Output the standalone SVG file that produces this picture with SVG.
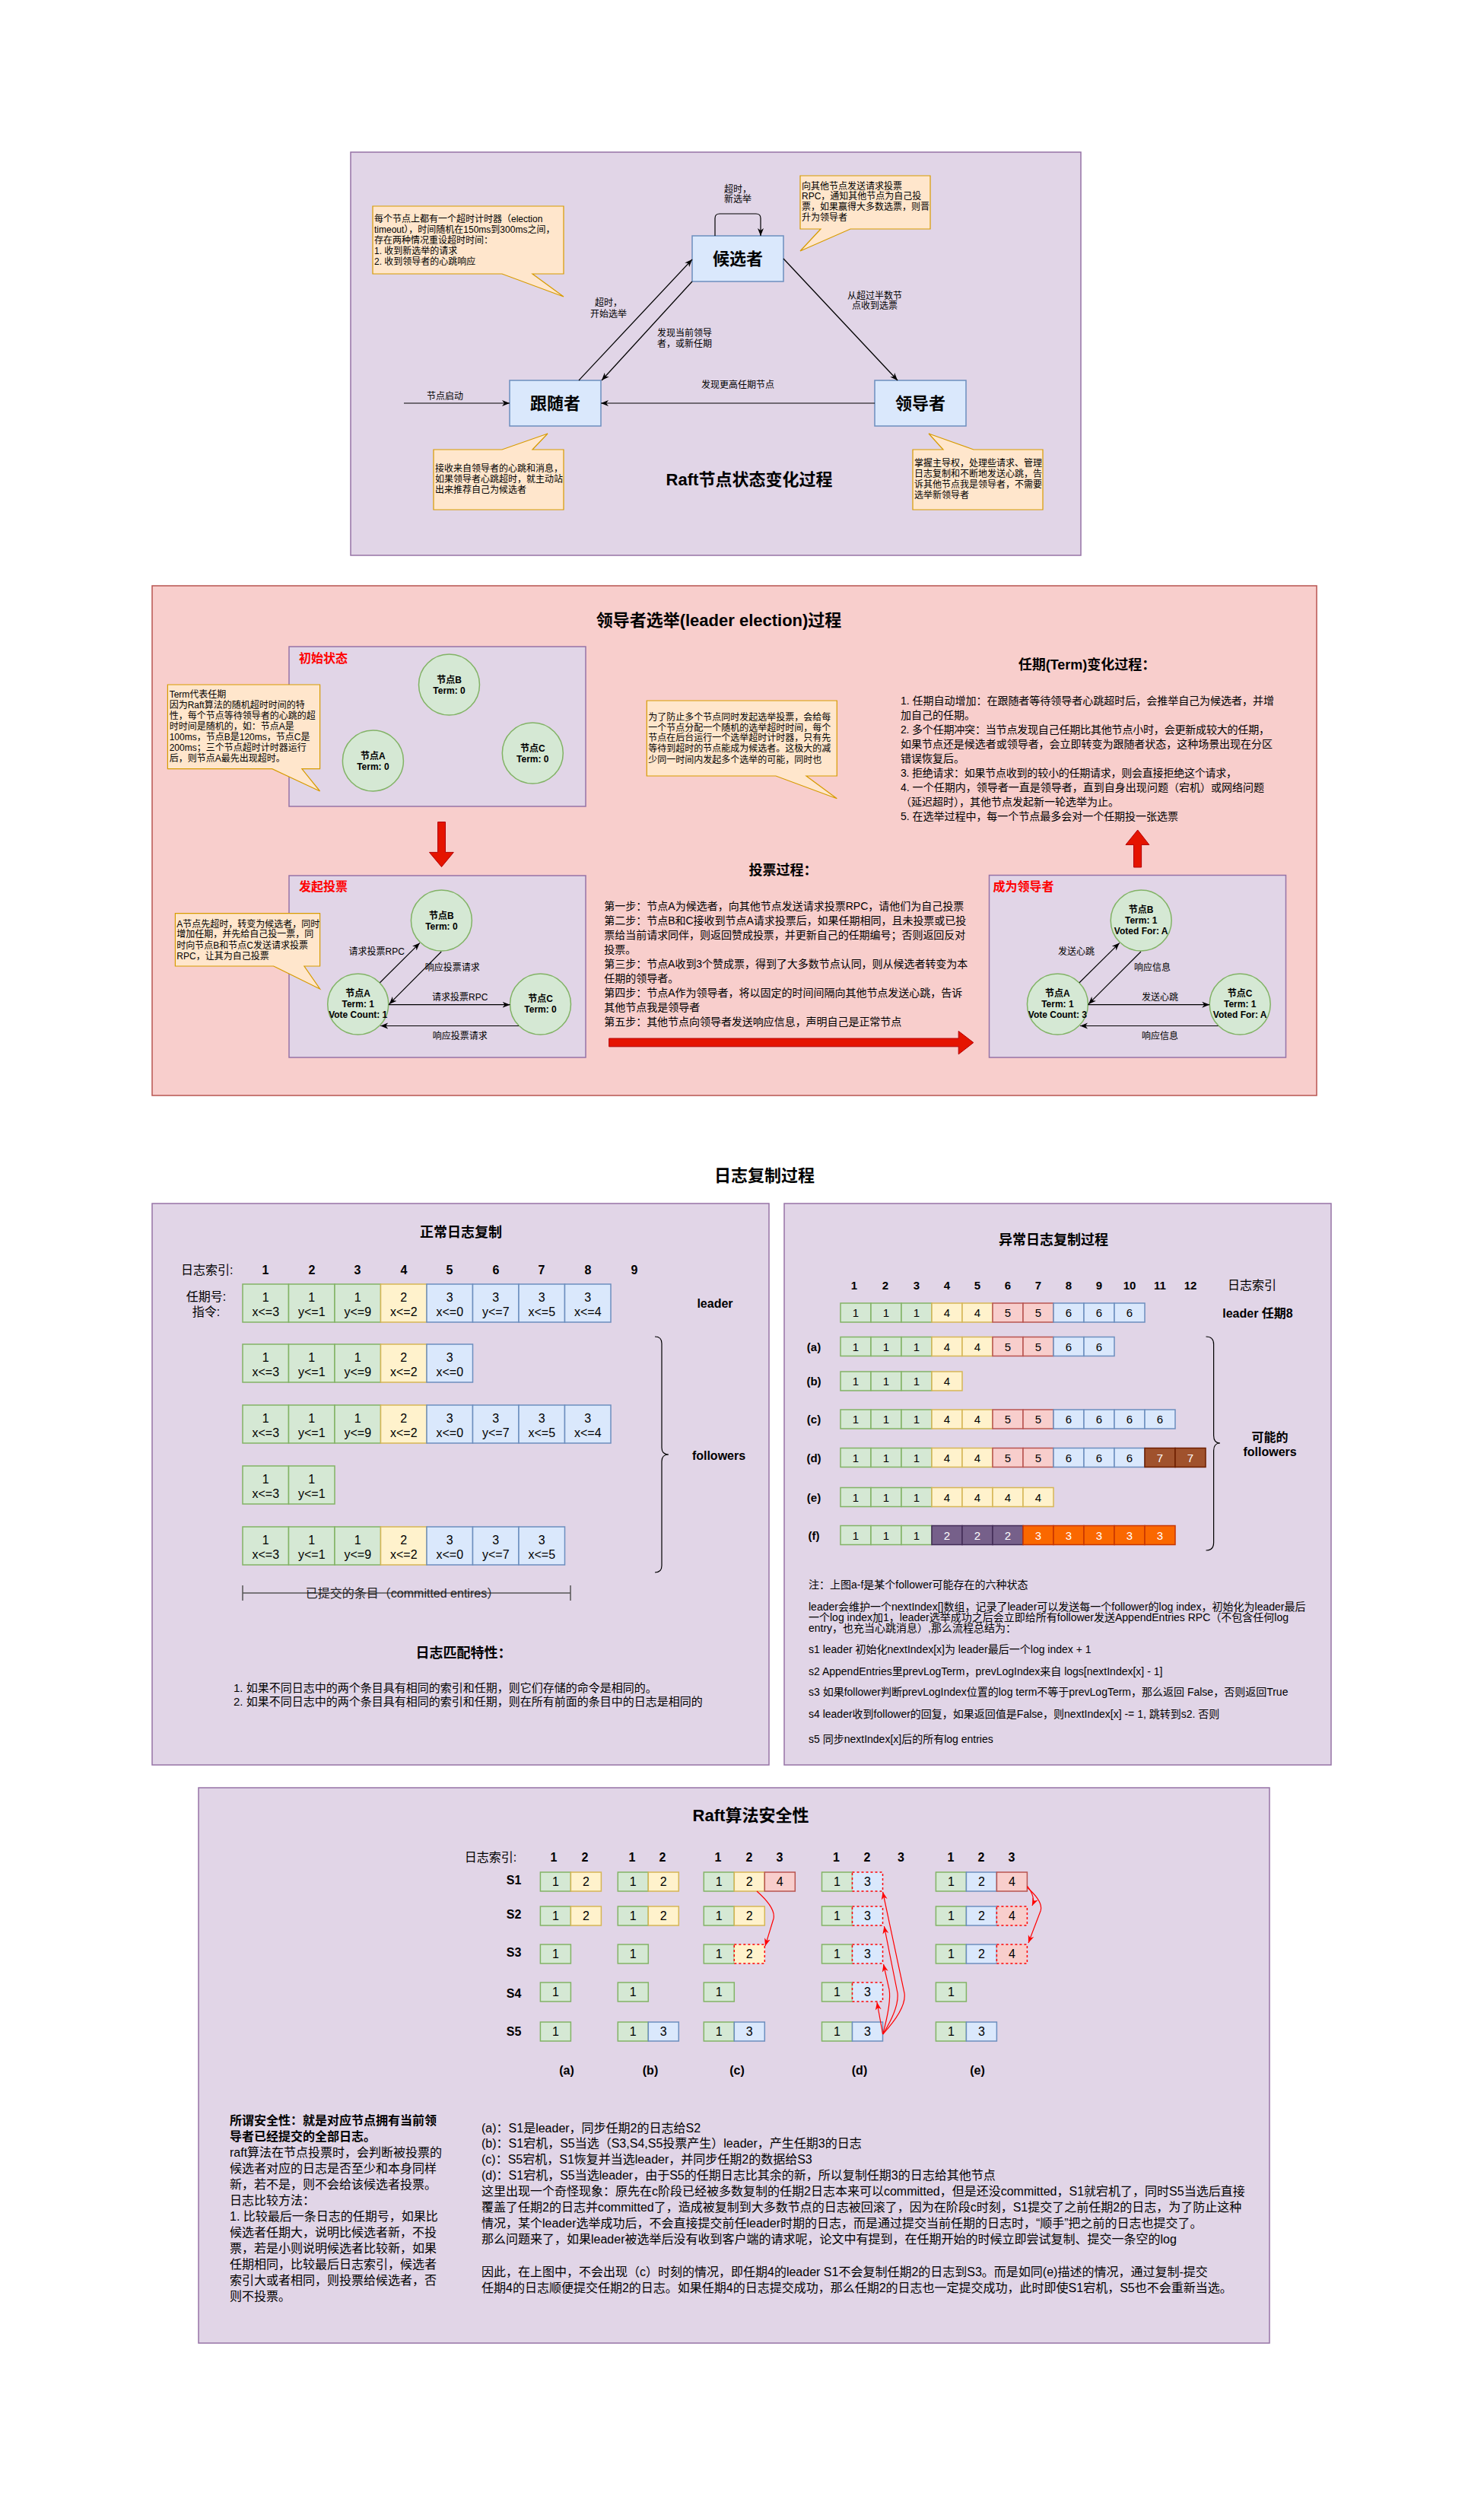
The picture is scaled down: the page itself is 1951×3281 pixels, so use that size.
<svg xmlns="http://www.w3.org/2000/svg" width="1951" height="3281" viewBox="0 0 1951 3281">
<style>
text{font-family:"Liberation Sans","Noto Sans CJK SC",sans-serif;fill:#000;dominant-baseline:central}
.m{text-anchor:middle}
.b{font-weight:bold}
.s11{font-size:11px}.s12{font-size:12px}.s14{font-size:14px}.s15{font-size:15px}.s16{font-size:16px}.s18{font-size:18px}.s22{font-size:22px}
.red{fill:#ff0000}
.w{fill:#fff}
.pp{fill:#e1d5e7;stroke:#9673a6;stroke-width:1.5}
.pr{fill:#f8cecc;stroke:#b85450;stroke-width:1.5}
.co{fill:#ffe6cc;stroke:#d79b00;stroke-width:1.2}
.bl{fill:#dae8fc;stroke:#6c8ebf;stroke-width:1.5}
.gr{fill:#d5e8d4;stroke:#82b366;stroke-width:1.5}
.ye{fill:#fff2cc;stroke:#d6b656;stroke-width:1.5}
.rd{fill:#f8cecc;stroke:#b85450;stroke-width:1.5}
.bn{fill:#a0522d;stroke:#6d1f00;stroke-width:1.5}
.pu{fill:#76608a;stroke:#432d57;stroke-width:1.5}
.or{fill:#fa6800;stroke:#c73500;stroke-width:1.5}
.dsh{stroke:#ff0000;stroke-dasharray:3 3}
.nd{fill:#d5e8d4;stroke:#82b366;stroke-width:1.5}
.e{fill:none;stroke:#000;stroke-width:1.2;marker-end:url(#a)}
.er{fill:none;stroke:#ff0000;stroke-width:1.2;marker-end:url(#ar)}
.big{fill:#e51400;stroke:#b20000;stroke-width:1}
.ln{fill:none;stroke:#000;stroke-width:1.2}
</style>
<defs>
<marker id="a" markerUnits="userSpaceOnUse" markerWidth="10" markerHeight="10" viewBox="0 0 10 10" refX="10" refY="5" orient="auto"><path d="M0,1 L10,5 L0,9 L3,5 Z" fill="#000"/></marker>
<marker id="ar" markerUnits="userSpaceOnUse" markerWidth="10" markerHeight="10" viewBox="0 0 10 10" refX="10" refY="5" orient="auto"><path d="M0,1 L10,5 L0,9 L3,5 Z" fill="#ff0000"/></marker>
</defs>
<rect x="0" y="0" width="1951" height="3281" fill="#ffffff"/>

<!-- ========== Section 1: state diagram ========== -->
<g id="state-panel">
<rect class="pp" x="461" y="200" width="960" height="530"/>
<text class="s22 b m" x="985" y="630">Raft节点状态变化过程</text>
</g>
<g id="note-timeout">
<path class="co" d="M490,271 H741 V360 H700 L741,390 L660,360 H490 Z"/>
<text class="s12" x="492" y="288">每个节点上都有一个超时计时器（election</text>
<text class="s12" x="492" y="302">timeout），时间随机在150ms到300ms之间，</text>
<text class="s12" x="492" y="316">存在两种情况重设超时时间：</text>
<text class="s12" x="492" y="330">1. 收到新选举的请求</text>
<text class="s12" x="492" y="344">2. 收到领导者的心跳响应</text>
</g>
<g id="note-candidate">
<path class="co" d="M1052,231 H1223 V301 H1118 L1052,330 L1079,301 H1052 Z"/>
<text class="s12" x="1054" y="245">向其他节点发送请求投票</text>
<text class="s12" x="1054" y="258">RPC，通知其他节点为自己投</text>
<text class="s12" x="1054" y="272">票，如果赢得大多数选票，则晋</text>
<text class="s12" x="1054" y="286">升为领导者</text>
</g>
<g id="note-follower">
<path class="co" d="M570,591 H660 L720,570 L700,591 H741 V670 H570 Z"/>
<text class="s12" x="572" y="616">接收来自领导者的心跳和消息，</text>
<text class="s12" x="572" y="630">如果领导者心跳超时，就主动站</text>
<text class="s12" x="572" y="644">出来推荐自己为候选者</text>
</g>
<g id="note-leader">
<path class="co" d="M1200,591 H1240 L1221,570 L1280,591 H1371 V670 H1200 Z"/>
<text class="s12" x="1202" y="609">掌握主导权，处理些请求、管理</text>
<text class="s12" x="1202" y="623">日志复制和不断地发送心跳，告</text>
<text class="s12" x="1202" y="637">诉其他节点我是领导者，不需要</text>
<text class="s12" x="1202" y="651">选举新领导者</text>
</g>
<g id="candidate">
<rect class="bl" x="910" y="310" width="120" height="60"/>
<text class="s22 b m" x="970" y="340">候选者</text>
</g>
<g id="follower">
<rect class="bl" x="670" y="500" width="120" height="60"/>
<text class="s22 b m" x="730" y="530">跟随者</text>
</g>
<g id="leader">
<rect class="bl" x="1150" y="500" width="120" height="60"/>
<text class="s22 b m" x="1210" y="530">领导者</text>
</g>

<!-- ========== Section 2: leader election ========== -->
<g id="election-panel">
<rect class="pr" x="200" y="770" width="1531" height="670"/>
<text class="s22 b m" x="945" y="815">领导者选举(leader election)过程</text>
</g>
<g id="init-state">
<rect class="pp" x="380" y="850" width="390" height="210"/>
<text class="s16 b red" x="393" y="865">初始状态</text>
</g>
<g id="init-nodeB"><ellipse class="nd" cx="590.5" cy="900" rx="40" ry="40"/><text class="s12 b m" x="590.5" y="893.5">节点B</text><text class="s12 b m" x="590.5" y="907.5">Term: 0</text></g>
<g id="init-nodeA"><ellipse class="nd" cx="490.4" cy="1000" rx="40" ry="40"/><text class="s12 b m" x="490.4" y="993.5">节点A</text><text class="s12 b m" x="490.4" y="1007.5">Term: 0</text></g>
<g id="init-nodeC"><ellipse class="nd" cx="700.3" cy="990" rx="40" ry="40"/><text class="s12 b m" x="700.3" y="983.5">节点C</text><text class="s12 b m" x="700.3" y="997.5">Term: 0</text></g>
<g id="note-term">
<path class="co" d="M220.4,900 H420.6 V1010.7 H396.9 L420.6,1040 L357.8,1010.7 H220.4 Z"/>
<text class="s12" x="222.7" y="913">Term代表任期</text>
<text class="s12" x="222.7" y="927">因为Raft算法的随机超时时间的特</text>
<text class="s12" x="222.7" y="941">性，每个节点等待领导者的心跳的超</text>
<text class="s12" x="222.7" y="955">时时间是随机的，如：节点A是</text>
<text class="s12" x="222.7" y="969">100ms，节点B是120ms，节点C是</text>
<text class="s12" x="222.7" y="983">200ms；三个节点超时计时器运行</text>
<text class="s12" x="222.7" y="997">后，则节点A最先出现超时。</text>
</g>
<g id="arrow-down"><path class="big" d="M575.6,1080.5 H585.5 V1120.4 H596.3 L580.5,1139.5 L564.5,1120.4 H575.6 Z"/></g>
<g id="vote-state">
<rect class="pp" x="380" y="1151" width="390" height="239"/>
<text class="s16 b red" x="393" y="1165">发起投票</text>
</g>
<g id="vote-nodeB"><ellipse class="nd" cx="580.4" cy="1210" rx="40" ry="40"/><text class="s12 b m" x="580.4" y="1203.5">节点B</text><text class="s12 b m" x="580.4" y="1217.5">Term: 0</text></g>
<g id="vote-nodeA"><ellipse class="nd" cx="470.7" cy="1320" rx="40" ry="40"/><text class="s12 b m" x="470.7" y="1306.4">节点A</text><text class="s12 b m" x="470.7" y="1320.3">Term: 1</text><text class="s12 b m" x="470.7" y="1334.2">Vote Count: 1</text></g>
<g id="vote-nodeC"><ellipse class="nd" cx="710.5" cy="1320" rx="40" ry="40"/><text class="s12 b m" x="710.5" y="1313.4">节点C</text><text class="s12 b m" x="710.5" y="1327.3">Term: 0</text></g>
<g id="note-vote">
<path class="co" d="M230.4,1200.6 H420.6 V1270 H399.9 L420.6,1300 L359.7,1270 H230.4 Z"/>
<text class="s12" x="232.3" y="1214.5">A节点先超时，转变为候选者，同时</text>
<text class="s12" x="232.3" y="1228.4">增加任期，并先给自己投一票，同</text>
<text class="s12" x="232.3" y="1242.5">时向节点B和节点C发送请求投票</text>
<text class="s12" x="232.3" y="1256.5">RPC，让其为自己投票</text>
</g>
<g id="note-random">
<path class="co" d="M850.3,921 H1100.3 V1020 H1060 L1100.3,1049.7 L1020,1020 H850.3 Z"/>
<text class="s12" x="852.3" y="942.6">为了防止多个节点同时发起选举投票，会给每</text>
<text class="s12" x="852.3" y="956.5">一个节点分配一个随机的选举超时时间，每个</text>
<text class="s12" x="852.3" y="970.3">节点在后台运行一个选举超时计时器，只有先</text>
<text class="s12" x="852.3" y="984.2">等待到超时的节点能成为候选者。这极大的减</text>
<text class="s12" x="852.3" y="998.5">少同一时间内发起多个选举的可能，同时也</text>
</g>
<g id="vote-process">
<text class="s18 b m" x="1029.5" y="1144">投票过程：</text>
<text class="s14" x="794.3" y="1190.6" textLength="473" lengthAdjust="spacing">第一步：节点A为候选者，向其他节点发送请求投票RPC，请他们为自己投票</text>
<text class="s14" x="794.3" y="1210" textLength="476" lengthAdjust="spacing">第二步：节点B和C接收到节点A请求投票后，如果任期相同，且未投票或已投</text>
<text class="s14" x="794.3" y="1229" textLength="475" lengthAdjust="spacing">票给当前请求同伴，则返回赞成投票，并更新自己的任期编号；否则返回反对</text>
<text class="s14" x="794.3" y="1248">投票。</text>
<text class="s14" x="794.3" y="1267" textLength="478" lengthAdjust="spacing">第三步：节点A收到3个赞成票，得到了大多数节点认同，则从候选者转变为本</text>
<text class="s14" x="794.3" y="1286">任期的领导者。</text>
<text class="s14" x="794.3" y="1305" textLength="471" lengthAdjust="spacing">第四步：节点A作为领导者，将以固定的时间间隔向其他节点发送心跳，告诉</text>
<text class="s14" x="794.3" y="1324">其他节点我是领导者</text>
<text class="s14" x="794.3" y="1343" textLength="391" lengthAdjust="spacing">第五步：其他节点向领导者发送响应信息，声明自己是正常节点</text>
</g>
<g id="arrow-right"><path class="big" d="M800.7,1365 H1260.2 V1355.4 L1279.8,1370.5 L1260.2,1385.8 V1375.8 H800.7 Z"/></g>
<g id="term-process">
<text class="s18 b m" x="1429" y="874">任期(Term)变化过程：</text>
<text class="s14" x="1184" y="921" textLength="491" lengthAdjust="spacing">1. 任期自动增加：在跟随者等待领导者心跳超时后，会推举自己为候选者，并增</text>
<text class="s14" x="1184" y="940">加自己的任期。</text>
<text class="s14" x="1184" y="959" textLength="485" lengthAdjust="spacing">2. 多个任期冲突：当节点发现自己任期比其他节点小时，会更新成较大的任期，</text>
<text class="s14" x="1184" y="978" textLength="489" lengthAdjust="spacing">如果节点还是候选者或领导者，会立即转变为跟随者状态，这种场景出现在分区</text>
<text class="s14" x="1184" y="997">错误恢复后。</text>
<text class="s14" x="1184" y="1016" textLength="442" lengthAdjust="spacing">3. 拒绝请求：如果节点收到的较小的任期请求，则会直接拒绝这个请求，</text>
<text class="s14" x="1184" y="1035" textLength="478" lengthAdjust="spacing">4. 一个任期内，领导者一直是领导者，直到自身出现问题（宕机）或网络问题</text>
<text class="s14" x="1184" y="1054">（延迟超时），其他节点发起新一轮选举为止。</text>
<text class="s14" x="1184" y="1073" textLength="365" lengthAdjust="spacing">5. 在选举过程中，每一个节点最多会对一个任期投一张选票</text>
</g>
<g id="arrow-up"><path class="big" d="M1490.5,1140 V1110.4 H1480 L1495.7,1091 L1510.8,1110.4 H1500.6 V1140 Z"/></g>
<g id="leader-state">
<rect class="pp" x="1300.5" y="1150.5" width="390" height="239.5"/>
<text class="s16 b red" x="1305.4" y="1165">成为领导者</text>
</g>
<g id="lead-nodeB"><ellipse class="nd" cx="1500.2" cy="1210" rx="40" ry="40"/><text class="s12 b m" x="1500.2" y="1196.3">节点B</text><text class="s12 b m" x="1500.2" y="1210.2">Term: 1</text><text class="s12 b m" x="1500.2" y="1224">Voted For: A</text></g>
<g id="lead-nodeA"><ellipse class="nd" cx="1390.4" cy="1320" rx="40" ry="40"/><text class="s12 b m" x="1390.4" y="1306.4">节点A</text><text class="s12 b m" x="1390.4" y="1320.3">Term: 1</text><text class="s12 b m" x="1390.4" y="1334.2">Vote Count: 3</text></g>
<g id="lead-nodeC"><ellipse class="nd" cx="1630.2" cy="1320" rx="40" ry="40"/><text class="s12 b m" x="1630.2" y="1306.4">节点C</text><text class="s12 b m" x="1630.2" y="1320.3">Term: 1</text><text class="s12 b m" x="1630.2" y="1334.2">Voted For: A</text></g>

<!-- ========== Section 3: log replication ========== -->
<text class="s22 b m" x="1005" y="1545">日志复制过程</text>
<g id="normal-log">
<rect class="pp" x="200" y="1582" width="811" height="738"/>
<text class="s18 b m" x="606" y="1620">正常日志复制</text>
<text class="s16" x="238" y="1669">日志索引:</text>
<text class="s16 b m" x="349" y="1669">1</text><text class="s16 b m" x="410" y="1669">2</text><text class="s16 b m" x="470" y="1669">3</text><text class="s16 b m" x="531" y="1669">4</text><text class="s16 b m" x="591" y="1669">5</text><text class="s16 b m" x="652" y="1669">6</text><text class="s16 b m" x="712" y="1669">7</text><text class="s16 b m" x="773" y="1669">8</text><text class="s16 b m" x="834" y="1669">9</text>
<text class="s16 m" x="271" y="1704">任期号:</text>
<text class="s16 m" x="271" y="1724">指令:</text>
<text class="s16 b m" x="940" y="1713">leader</text>
<text class="s16 b m" x="945" y="1913">followers</text>
<path class="ln" d="M861,1757 Q870,1757 870,1766 V1903 Q870,1912 879,1912 Q870,1912 870,1921 V2058 Q870,2067 861,2067"/>
</g>
<g id="log-leader">
<rect class="gr" x="319" y="1688" width="60.5" height="50"/><text class="s16 m" x="349.25" y="1705">1</text><text class="s16 m" x="349.25" y="1724">x&lt;=3</text>
<rect class="gr" x="379.5" y="1688" width="60.5" height="50"/><text class="s16 m" x="409.75" y="1705">1</text><text class="s16 m" x="409.75" y="1724">y&lt;=1</text>
<rect class="gr" x="440" y="1688" width="60.5" height="50"/><text class="s16 m" x="470.25" y="1705">1</text><text class="s16 m" x="470.25" y="1724">y&lt;=9</text>
<rect class="ye" x="500.5" y="1688" width="60.5" height="50"/><text class="s16 m" x="530.75" y="1705">2</text><text class="s16 m" x="530.75" y="1724">x&lt;=2</text>
<rect class="bl" x="561" y="1688" width="60.5" height="50"/><text class="s16 m" x="591.25" y="1705">3</text><text class="s16 m" x="591.25" y="1724">x&lt;=0</text>
<rect class="bl" x="621.5" y="1688" width="60.5" height="50"/><text class="s16 m" x="651.75" y="1705">3</text><text class="s16 m" x="651.75" y="1724">y&lt;=7</text>
<rect class="bl" x="682" y="1688" width="60.5" height="50"/><text class="s16 m" x="712.25" y="1705">3</text><text class="s16 m" x="712.25" y="1724">x&lt;=5</text>
<rect class="bl" x="742.5" y="1688" width="60.5" height="50"/><text class="s16 m" x="772.75" y="1705">3</text><text class="s16 m" x="772.75" y="1724">x&lt;=4</text>
</g>
<g id="log-f1">
<rect class="gr" x="319" y="1767" width="60.5" height="50"/><text class="s16 m" x="349.25" y="1784">1</text><text class="s16 m" x="349.25" y="1803">x&lt;=3</text>
<rect class="gr" x="379.5" y="1767" width="60.5" height="50"/><text class="s16 m" x="409.75" y="1784">1</text><text class="s16 m" x="409.75" y="1803">y&lt;=1</text>
<rect class="gr" x="440" y="1767" width="60.5" height="50"/><text class="s16 m" x="470.25" y="1784">1</text><text class="s16 m" x="470.25" y="1803">y&lt;=9</text>
<rect class="ye" x="500.5" y="1767" width="60.5" height="50"/><text class="s16 m" x="530.75" y="1784">2</text><text class="s16 m" x="530.75" y="1803">x&lt;=2</text>
<rect class="bl" x="561" y="1767" width="60.5" height="50"/><text class="s16 m" x="591.25" y="1784">3</text><text class="s16 m" x="591.25" y="1803">x&lt;=0</text>
</g>
<g id="log-f2">
<rect class="gr" x="319" y="1847" width="60.5" height="50"/><text class="s16 m" x="349.25" y="1864">1</text><text class="s16 m" x="349.25" y="1883">x&lt;=3</text>
<rect class="gr" x="379.5" y="1847" width="60.5" height="50"/><text class="s16 m" x="409.75" y="1864">1</text><text class="s16 m" x="409.75" y="1883">y&lt;=1</text>
<rect class="gr" x="440" y="1847" width="60.5" height="50"/><text class="s16 m" x="470.25" y="1864">1</text><text class="s16 m" x="470.25" y="1883">y&lt;=9</text>
<rect class="ye" x="500.5" y="1847" width="60.5" height="50"/><text class="s16 m" x="530.75" y="1864">2</text><text class="s16 m" x="530.75" y="1883">x&lt;=2</text>
<rect class="bl" x="561" y="1847" width="60.5" height="50"/><text class="s16 m" x="591.25" y="1864">3</text><text class="s16 m" x="591.25" y="1883">x&lt;=0</text>
<rect class="bl" x="621.5" y="1847" width="60.5" height="50"/><text class="s16 m" x="651.75" y="1864">3</text><text class="s16 m" x="651.75" y="1883">y&lt;=7</text>
<rect class="bl" x="682" y="1847" width="60.5" height="50"/><text class="s16 m" x="712.25" y="1864">3</text><text class="s16 m" x="712.25" y="1883">x&lt;=5</text>
<rect class="bl" x="742.5" y="1847" width="60.5" height="50"/><text class="s16 m" x="772.75" y="1864">3</text><text class="s16 m" x="772.75" y="1883">x&lt;=4</text>
</g>
<g id="log-f3">
<rect class="gr" x="319" y="1927" width="60.5" height="50"/><text class="s16 m" x="349.25" y="1944">1</text><text class="s16 m" x="349.25" y="1963">x&lt;=3</text>
<rect class="gr" x="379.5" y="1927" width="60.5" height="50"/><text class="s16 m" x="409.75" y="1944">1</text><text class="s16 m" x="409.75" y="1963">y&lt;=1</text>
</g>
<g id="log-f4">
<rect class="gr" x="319" y="2007" width="60.5" height="50"/><text class="s16 m" x="349.25" y="2024">1</text><text class="s16 m" x="349.25" y="2043">x&lt;=3</text>
<rect class="gr" x="379.5" y="2007" width="60.5" height="50"/><text class="s16 m" x="409.75" y="2024">1</text><text class="s16 m" x="409.75" y="2043">y&lt;=1</text>
<rect class="gr" x="440" y="2007" width="60.5" height="50"/><text class="s16 m" x="470.25" y="2024">1</text><text class="s16 m" x="470.25" y="2043">y&lt;=9</text>
<rect class="ye" x="500.5" y="2007" width="60.5" height="50"/><text class="s16 m" x="530.75" y="2024">2</text><text class="s16 m" x="530.75" y="2043">x&lt;=2</text>
<rect class="bl" x="561" y="2007" width="60.5" height="50"/><text class="s16 m" x="591.25" y="2024">3</text><text class="s16 m" x="591.25" y="2043">x&lt;=0</text>
<rect class="bl" x="621.5" y="2007" width="60.5" height="50"/><text class="s16 m" x="651.75" y="2024">3</text><text class="s16 m" x="651.75" y="2043">y&lt;=7</text>
<rect class="bl" x="682" y="2007" width="60.5" height="50"/><text class="s16 m" x="712.25" y="2024">3</text><text class="s16 m" x="712.25" y="2043">x&lt;=5</text>
</g>
<g id="committed">
<path d="M319,2094 H750 M319,2084 V2104 M750,2084 V2104" fill="none" stroke="#555" stroke-width="1.5"/>
<text class="s16 m" x="529" y="2094" style="fill:#222">已提交的条目（committed entires）</text>
</g>
<g id="log-matching">
<text class="s18 b m" x="609.5" y="2173">日志匹配特性：</text>
<text class="s15" x="307" y="2218">1. 如果不同日志中的两个条目具有相同的索引和任期，则它们存储的命令是相同的。</text>
<text class="s15" x="307" y="2236">2. 如果不同日志中的两个条目具有相同的索引和任期，则在所有前面的条目中的日志是相同的</text>
</g>

<g id="abnormal-log">
<rect class="pp" x="1031" y="1582" width="719" height="738"/>
<text class="s18 b m" x="1385" y="1630">异常日志复制过程</text>
<text class="s15 b m" x="1123" y="1689">1</text><text class="s15 b m" x="1164" y="1689">2</text><text class="s15 b m" x="1205" y="1689">3</text><text class="s15 b m" x="1245" y="1689">4</text><text class="s15 b m" x="1285" y="1689">5</text><text class="s15 b m" x="1325" y="1689">6</text><text class="s15 b m" x="1365" y="1689">7</text><text class="s15 b m" x="1405" y="1689">8</text><text class="s15 b m" x="1445" y="1689">9</text><text class="s15 b m" x="1485" y="1689">10</text><text class="s15 b m" x="1525" y="1689">11</text><text class="s15 b m" x="1565" y="1689">12</text>
<text class="s16 m" x="1646" y="1689">日志索引</text>
<text class="s16 b m" x="1653.5" y="1726">leader 任期8</text>
<text class="s15 b m" x="1070" y="1770">(a)</text>
<text class="s15 b m" x="1070" y="1815.5">(b)</text>
<text class="s15 b m" x="1070" y="1865.5">(c)</text>
<text class="s15 b m" x="1070" y="1916">(d)</text>
<text class="s15 b m" x="1070" y="1968">(e)</text>
<text class="s15 b m" x="1070" y="2018">(f)</text>
<path class="ln" d="M1585.5,1757 Q1595.6,1757 1595.6,1767 V1887 Q1595.6,1897 1604,1897 Q1595.6,1897 1595.6,1907 V2028 Q1595.6,2038 1585.5,2038"/>
<text class="s16 b m" x="1669.6" y="1889">可能的</text>
<text class="s16 b m" x="1669.6" y="1908">followers</text>
</g>
<g id="ab-leader">
<rect class="gr" x="1105" y="1713" width="40" height="25"/><rect class="gr" x="1145" y="1713" width="40" height="25"/><rect class="gr" x="1185" y="1713" width="40" height="25"/><rect class="ye" x="1225" y="1713" width="40" height="25"/><rect class="ye" x="1265" y="1713" width="40" height="25"/><rect class="rd" x="1305" y="1713" width="40" height="25"/><rect class="rd" x="1345" y="1713" width="40" height="25"/><rect class="bl" x="1385" y="1713" width="40" height="25"/><rect class="bl" x="1425" y="1713" width="40" height="25"/><rect class="bl" x="1465" y="1713" width="40" height="25"/>
<text class="s15 m" x="1125" y="1725.5">1</text><text class="s15 m" x="1165" y="1725.5">1</text><text class="s15 m" x="1205" y="1725.5">1</text><text class="s15 m" x="1245" y="1725.5">4</text><text class="s15 m" x="1285" y="1725.5">4</text><text class="s15 m" x="1325" y="1725.5">5</text><text class="s15 m" x="1365" y="1725.5">5</text><text class="s15 m" x="1405" y="1725.5">6</text><text class="s15 m" x="1445" y="1725.5">6</text><text class="s15 m" x="1485" y="1725.5">6</text>
</g>
<g id="ab-a">
<rect class="gr" x="1105" y="1757.5" width="40" height="25"/><rect class="gr" x="1145" y="1757.5" width="40" height="25"/><rect class="gr" x="1185" y="1757.5" width="40" height="25"/><rect class="ye" x="1225" y="1757.5" width="40" height="25"/><rect class="ye" x="1265" y="1757.5" width="40" height="25"/><rect class="rd" x="1305" y="1757.5" width="40" height="25"/><rect class="rd" x="1345" y="1757.5" width="40" height="25"/><rect class="bl" x="1385" y="1757.5" width="40" height="25"/><rect class="bl" x="1425" y="1757.5" width="40" height="25"/>
<text class="s15 m" x="1125" y="1770">1</text><text class="s15 m" x="1165" y="1770">1</text><text class="s15 m" x="1205" y="1770">1</text><text class="s15 m" x="1245" y="1770">4</text><text class="s15 m" x="1285" y="1770">4</text><text class="s15 m" x="1325" y="1770">5</text><text class="s15 m" x="1365" y="1770">5</text><text class="s15 m" x="1405" y="1770">6</text><text class="s15 m" x="1445" y="1770">6</text>
</g>
<g id="ab-b">
<rect class="gr" x="1105" y="1803" width="40" height="25"/><rect class="gr" x="1145" y="1803" width="40" height="25"/><rect class="gr" x="1185" y="1803" width="40" height="25"/><rect class="ye" x="1225" y="1803" width="40" height="25"/>
<text class="s15 m" x="1125" y="1815.5">1</text><text class="s15 m" x="1165" y="1815.5">1</text><text class="s15 m" x="1205" y="1815.5">1</text><text class="s15 m" x="1245" y="1815.5">4</text>
</g>
<g id="ab-c">
<rect class="gr" x="1105" y="1853" width="40" height="25"/><rect class="gr" x="1145" y="1853" width="40" height="25"/><rect class="gr" x="1185" y="1853" width="40" height="25"/><rect class="ye" x="1225" y="1853" width="40" height="25"/><rect class="ye" x="1265" y="1853" width="40" height="25"/><rect class="rd" x="1305" y="1853" width="40" height="25"/><rect class="rd" x="1345" y="1853" width="40" height="25"/><rect class="bl" x="1385" y="1853" width="40" height="25"/><rect class="bl" x="1425" y="1853" width="40" height="25"/><rect class="bl" x="1465" y="1853" width="40" height="25"/><rect class="bl" x="1505" y="1853" width="40" height="25"/>
<text class="s15 m" x="1125" y="1865.5">1</text><text class="s15 m" x="1165" y="1865.5">1</text><text class="s15 m" x="1205" y="1865.5">1</text><text class="s15 m" x="1245" y="1865.5">4</text><text class="s15 m" x="1285" y="1865.5">4</text><text class="s15 m" x="1325" y="1865.5">5</text><text class="s15 m" x="1365" y="1865.5">5</text><text class="s15 m" x="1405" y="1865.5">6</text><text class="s15 m" x="1445" y="1865.5">6</text><text class="s15 m" x="1485" y="1865.5">6</text><text class="s15 m" x="1525" y="1865.5">6</text>
</g>
<g id="ab-d">
<rect class="gr" x="1105" y="1903.5" width="40" height="25"/><rect class="gr" x="1145" y="1903.5" width="40" height="25"/><rect class="gr" x="1185" y="1903.5" width="40" height="25"/><rect class="ye" x="1225" y="1903.5" width="40" height="25"/><rect class="ye" x="1265" y="1903.5" width="40" height="25"/><rect class="rd" x="1305" y="1903.5" width="40" height="25"/><rect class="rd" x="1345" y="1903.5" width="40" height="25"/><rect class="bl" x="1385" y="1903.5" width="40" height="25"/><rect class="bl" x="1425" y="1903.5" width="40" height="25"/><rect class="bl" x="1465" y="1903.5" width="40" height="25"/><rect class="bn" x="1505" y="1903.5" width="40" height="25"/><rect class="bn" x="1545" y="1903.5" width="40" height="25"/>
<text class="s15 m" x="1125" y="1916">1</text><text class="s15 m" x="1165" y="1916">1</text><text class="s15 m" x="1205" y="1916">1</text><text class="s15 m" x="1245" y="1916">4</text><text class="s15 m" x="1285" y="1916">4</text><text class="s15 m" x="1325" y="1916">5</text><text class="s15 m" x="1365" y="1916">5</text><text class="s15 m" x="1405" y="1916">6</text><text class="s15 m" x="1445" y="1916">6</text><text class="s15 m" x="1485" y="1916">6</text><text class="s15 m w" x="1525" y="1916">7</text><text class="s15 m w" x="1565" y="1916">7</text>
</g>
<g id="ab-e">
<rect class="gr" x="1105" y="1955.5" width="40" height="25"/><rect class="gr" x="1145" y="1955.5" width="40" height="25"/><rect class="gr" x="1185" y="1955.5" width="40" height="25"/><rect class="ye" x="1225" y="1955.5" width="40" height="25"/><rect class="ye" x="1265" y="1955.5" width="40" height="25"/><rect class="ye" x="1305" y="1955.5" width="40" height="25"/><rect class="ye" x="1345" y="1955.5" width="40" height="25"/>
<text class="s15 m" x="1125" y="1968">1</text><text class="s15 m" x="1165" y="1968">1</text><text class="s15 m" x="1205" y="1968">1</text><text class="s15 m" x="1245" y="1968">4</text><text class="s15 m" x="1285" y="1968">4</text><text class="s15 m" x="1325" y="1968">4</text><text class="s15 m" x="1365" y="1968">4</text>
</g>
<g id="ab-f">
<rect class="gr" x="1105" y="2005.5" width="40" height="25"/><rect class="gr" x="1145" y="2005.5" width="40" height="25"/><rect class="gr" x="1185" y="2005.5" width="40" height="25"/><rect class="pu" x="1225" y="2005.5" width="40" height="25"/><rect class="pu" x="1265" y="2005.5" width="40" height="25"/><rect class="pu" x="1305" y="2005.5" width="40" height="25"/><rect class="or" x="1345" y="2005.5" width="40" height="25"/><rect class="or" x="1385" y="2005.5" width="40" height="25"/><rect class="or" x="1425" y="2005.5" width="40" height="25"/><rect class="or" x="1465" y="2005.5" width="40" height="25"/><rect class="or" x="1505" y="2005.5" width="40" height="25"/>
<text class="s15 m" x="1125" y="2018">1</text><text class="s15 m" x="1165" y="2018">1</text><text class="s15 m" x="1205" y="2018">1</text><text class="s15 m w" x="1245" y="2018">2</text><text class="s15 m w" x="1285" y="2018">2</text><text class="s15 m w" x="1325" y="2018">2</text><text class="s15 m w" x="1365" y="2018">3</text><text class="s15 m w" x="1405" y="2018">3</text><text class="s15 m w" x="1445" y="2018">3</text><text class="s15 m w" x="1485" y="2018">3</text><text class="s15 m w" x="1525" y="2018">3</text>
</g>
<g id="ab-notes">
<text class="s14" x="1063" y="2083">注：上图a-f是某个follower可能存在的六种状态</text>
<text class="s14" x="1063" y="2112">leader会维护一个nextIndex[]数组，记录了leader可以发送每一个follower的log index，初始化为leader最后</text>
<text class="s14" x="1063" y="2126">一个log index加1，leader选举成功之后会立即给所有follower发送AppendEntries RPC（不包含任何log</text>
<text class="s14" x="1063" y="2140">entry，也充当心跳消息）,那么流程总结为：</text>
<text class="s14" x="1063" y="2168">s1 leader 初始化nextIndex[x]为 leader最后一个log index + 1</text>
<text class="s14" x="1063" y="2197">s2 AppendEntries里prevLogTerm，prevLogIndex来自 logs[nextIndex[x] - 1]</text>
<text class="s14" x="1063" y="2224">s3 如果follower判断prevLogIndex位置的log term不等于prevLogTerm，那么返回 False，否则返回True</text>
<text class="s14" x="1063" y="2253">s4 leader收到follower的回复，如果返回值是False，则nextIndex[x] -= 1, 跳转到s2. 否则</text>
<text class="s14" x="1063" y="2286">s5 同步nextIndex[x]后的所有log entries</text>
</g>

<!-- ========== Section 5: safety ========== -->
<g id="safety-panel">
<rect class="pp" x="261" y="2350" width="1408" height="730"/>
<text class="s22 b m" x="987" y="2386">Raft算法安全性</text>
<text class="s16 m" x="645" y="2441">日志索引:</text>
<text class="s16 b m" x="728" y="2441">1</text><text class="s16 b m" x="769" y="2441">2</text>
<text class="s16 b m" x="831" y="2441">1</text><text class="s16 b m" x="871" y="2441">2</text>
<text class="s16 b m" x="944" y="2441">1</text><text class="s16 b m" x="985" y="2441">2</text><text class="s16 b m" x="1025" y="2441">3</text>
<text class="s16 b m" x="1099.5" y="2441">1</text><text class="s16 b m" x="1140" y="2441">2</text><text class="s16 b m" x="1184.5" y="2441">3</text>
<text class="s16 b m" x="1250" y="2441">1</text><text class="s16 b m" x="1290" y="2441">2</text><text class="s16 b m" x="1330" y="2441">3</text>
<text class="s16 b m" x="675.5" y="2471">S1</text>
<text class="s16 b m" x="675.5" y="2516">S2</text>
<text class="s16 b m" x="675.5" y="2566">S3</text>
<text class="s16 b m" x="675.5" y="2620">S4</text>
<text class="s16 b m" x="675.5" y="2670">S5</text>
<text class="s16 b m" x="745" y="2721">(a)</text>
<text class="s16 b m" x="855" y="2721">(b)</text>
<text class="s16 b m" x="969" y="2721">(c)</text>
<text class="s16 b m" x="1130" y="2721">(d)</text>
<text class="s16 b m" x="1285" y="2721">(e)</text>
</g>
<g id="safe-a">
<rect class="gr" x="710.4" y="2461" width="40" height="25"/><rect class="ye" x="750.4" y="2461" width="40" height="25"/>
<rect class="gr" x="710.4" y="2506" width="40" height="25"/><rect class="ye" x="750.4" y="2506" width="40" height="25"/>
<rect class="gr" x="710.4" y="2556" width="40" height="25"/>
<rect class="gr" x="710.4" y="2606" width="40" height="25"/>
<rect class="gr" x="710.4" y="2658" width="40" height="25"/>
<text class="s16 m" x="730.4" y="2473.5">1</text><text class="s16 m" x="770.4" y="2473.5">2</text>
<text class="s16 m" x="730.4" y="2518.5">1</text><text class="s16 m" x="770.4" y="2518.5">2</text>
<text class="s16 m" x="730.4" y="2568.5">1</text>
<text class="s16 m" x="730.4" y="2618.5">1</text>
<text class="s16 m" x="730.4" y="2670.5">1</text>
</g>
<g id="safe-b">
<rect class="gr" x="812.3" y="2461" width="40" height="25"/><rect class="ye" x="852.3" y="2461" width="40" height="25"/>
<rect class="gr" x="812.3" y="2506" width="40" height="25"/><rect class="ye" x="852.3" y="2506" width="40" height="25"/>
<rect class="gr" x="812.3" y="2556" width="40" height="25"/>
<rect class="gr" x="812.3" y="2606" width="40" height="25"/>
<rect class="gr" x="812.3" y="2658" width="40" height="25"/><rect class="bl" x="852.3" y="2658" width="40" height="25"/>
<text class="s16 m" x="832.3" y="2473.5">1</text><text class="s16 m" x="872.3" y="2473.5">2</text>
<text class="s16 m" x="832.3" y="2518.5">1</text><text class="s16 m" x="872.3" y="2518.5">2</text>
<text class="s16 m" x="832.3" y="2568.5">1</text>
<text class="s16 m" x="832.3" y="2618.5">1</text>
<text class="s16 m" x="832.3" y="2670.5">1</text><text class="s16 m" x="872.3" y="2670.5">3</text>
</g>
<g id="safe-c">
<rect class="gr" x="925.3" y="2461" width="40" height="25"/><rect class="ye" x="965.3" y="2461" width="40" height="25"/><rect class="rd" x="1005.3" y="2461" width="40" height="25"/>
<rect class="gr" x="925.3" y="2506" width="40" height="25"/><rect class="ye" x="965.3" y="2506" width="40" height="25"/>
<rect class="gr" x="925.3" y="2556" width="40" height="25"/><rect class="ye dsh" x="965.3" y="2556" width="40" height="25"/>
<rect class="gr" x="925.3" y="2606" width="40" height="25"/>
<rect class="gr" x="925.3" y="2658" width="40" height="25"/><rect class="bl" x="965.3" y="2658" width="40" height="25"/>
<text class="s16 m" x="945.3" y="2473.5">1</text><text class="s16 m" x="985.3" y="2473.5">2</text><text class="s16 m" x="1025.3" y="2473.5">4</text>
<text class="s16 m" x="945.3" y="2518.5">1</text><text class="s16 m" x="985.3" y="2518.5">2</text>
<text class="s16 m" x="945.3" y="2568.5">1</text><text class="s16 m" x="985.3" y="2568.5">2</text>
<text class="s16 m" x="945.3" y="2618.5">1</text>
<text class="s16 m" x="945.3" y="2670.5">1</text><text class="s16 m" x="985.3" y="2670.5">3</text>
</g>
<g id="safe-d">
<rect class="gr" x="1080.5" y="2461" width="40" height="25"/><rect class="bl dsh" x="1120.5" y="2461" width="40" height="25"/>
<rect class="gr" x="1080.5" y="2506" width="40" height="25"/><rect class="bl dsh" x="1120.5" y="2506" width="40" height="25"/>
<rect class="gr" x="1080.5" y="2556" width="40" height="25"/><rect class="bl dsh" x="1120.5" y="2556" width="40" height="25"/>
<rect class="gr" x="1080.5" y="2606" width="40" height="25"/><rect class="bl dsh" x="1120.5" y="2606" width="40" height="25"/>
<rect class="gr" x="1080.5" y="2658" width="40" height="25"/><rect class="bl" x="1120.5" y="2658" width="40" height="25"/>
<text class="s16 m" x="1100.5" y="2473.5">1</text><text class="s16 m" x="1140.5" y="2473.5">3</text>
<text class="s16 m" x="1100.5" y="2518.5">1</text><text class="s16 m" x="1140.5" y="2518.5">3</text>
<text class="s16 m" x="1100.5" y="2568.5">1</text><text class="s16 m" x="1140.5" y="2568.5">3</text>
<text class="s16 m" x="1100.5" y="2618.5">1</text><text class="s16 m" x="1140.5" y="2618.5">3</text>
<text class="s16 m" x="1100.5" y="2670.5">1</text><text class="s16 m" x="1140.5" y="2670.5">3</text>
</g>
<g id="safe-e">
<rect class="gr" x="1230.4" y="2461" width="40" height="25"/><rect class="bl" x="1270.4" y="2461" width="40" height="25"/><rect class="rd" x="1310.4" y="2461" width="40" height="25"/>
<rect class="gr" x="1230.4" y="2506" width="40" height="25"/><rect class="bl" x="1270.4" y="2506" width="40" height="25"/><rect class="rd dsh" x="1310.4" y="2506" width="40" height="25"/>
<rect class="gr" x="1230.4" y="2556" width="40" height="25"/><rect class="bl" x="1270.4" y="2556" width="40" height="25"/><rect class="rd dsh" x="1310.4" y="2556" width="40" height="25"/>
<rect class="gr" x="1230.4" y="2606" width="40" height="25"/>
<rect class="gr" x="1230.4" y="2658" width="40" height="25"/><rect class="bl" x="1270.4" y="2658" width="40" height="25"/>
<text class="s16 m" x="1250.4" y="2473.5">1</text><text class="s16 m" x="1290.4" y="2473.5">2</text><text class="s16 m" x="1330.4" y="2473.5">4</text>
<text class="s16 m" x="1250.4" y="2518.5">1</text><text class="s16 m" x="1290.4" y="2518.5">2</text><text class="s16 m" x="1330.4" y="2518.5">4</text>
<text class="s16 m" x="1250.4" y="2568.5">1</text><text class="s16 m" x="1290.4" y="2568.5">2</text><text class="s16 m" x="1330.4" y="2568.5">4</text>
<text class="s16 m" x="1250.4" y="2618.5">1</text>
<text class="s16 m" x="1250.4" y="2670.5">1</text><text class="s16 m" x="1290.4" y="2670.5">3</text>
</g>
<g id="safety-text">
<text class="s16 b" x="302" y="2787">所谓安全性：就是对应节点拥有当前领</text>
<text class="s16 b" x="302" y="2808">导者已经提交的全部日志。</text>
<text class="s16" x="302" y="2829">raft算法在节点投票时，会判断被投票的</text>
<text class="s16" x="302" y="2850">候选者对应的日志是否至少和本身同样</text>
<text class="s16" x="302" y="2871">新，若不是，则不会给该候选者投票。</text>
<text class="s16" x="302" y="2892">日志比较方法：</text>
<text class="s16" x="302" y="2913">1. 比较最后一条日志的任期号，如果比</text>
<text class="s16" x="302" y="2934">候选者任期大，说明比候选者新，不投</text>
<text class="s16" x="302" y="2955">票，若是小则说明候选者比较新，如果</text>
<text class="s16" x="302" y="2976">任期相同，比较最后日志索引，候选者</text>
<text class="s16" x="302" y="2997">索引大或者相同，则投票给候选者，否</text>
<text class="s16" x="302" y="3018">则不投票。</text>
<text class="s16" x="633" y="2797">(a)：S1是leader，同步任期2的日志给S2</text>
<text class="s16" x="633" y="2817">(b)：S1宕机，S5当选（S3,S4,S5投票产生）leader，产生任期3的日志</text>
<text class="s16" x="633" y="2838">(c)：S5宕机，S1恢复并当选leader，并同步任期2的数据给S3</text>
<text class="s16" x="633" y="2859">(d)：S1宕机，S5当选leader，由于S5的任期日志比其余的新，所以复制任期3的日志给其他节点</text>
<text class="s16" x="633" y="2880">这里出现一个奇怪现象：原先在c阶段已经被多数复制的任期2日志本来可以committed，但是还没committed，S1就宕机了，同时S5当选后直接</text>
<text class="s16" x="633" y="2901">覆盖了任期2的日志并committed了，造成被复制到大多数节点的日志被回滚了，因为在阶段c时刻，S1提交了之前任期2的日志，为了防止这种</text>
<text class="s16" x="633" y="2922">情况，某个leader选举成功后，不会直接提交前任leader时期的日志，而是通过提交当前任期的日志时，“顺手”把之前的日志也提交了。</text>
<text class="s16" x="633" y="2943">那么问题来了，如果leader被选举后没有收到客户端的请求呢，论文中有提到，在任期开始的时候立即尝试复制、提交一条空的log</text>
<text class="s16" x="633" y="2986">因此，在上图中，不会出现（c）时刻的情况，即任期4的leader S1不会复制任期2的日志到S3。而是如同(e)描述的情况，通过复制-提交</text>
<text class="s16" x="633" y="3007">任期4的日志顺便提交任期2的日志。如果任期4的日志提交成功，那么任期2的日志也一定提交成功，此时即使S1宕机，S5也不会重新当选。</text>
</g>

<!-- ========== Connectors ========== -->
<g id="connectors">
<path class="e" d="M940,310 V287 Q940,281 946,281 H994 Q1000,281 1000,287 V310"/>
<path class="e" d="M761,500 L910,341"/>
<path class="e" d="M910,370 L791,500"/>
<path class="e" d="M1150,530 L790,530"/>
<path class="e" d="M531,530 L670,530"/>
<path class="e" d="M1030,340 L1180,500"/>
<path class="e" d="M499.4,1291.7 L551.8,1239.6"/>
<path class="e" d="M580.2,1251 L511.7,1319.9"/>
<path class="e" d="M510.9,1320.7 L670.5,1320.7"/>
<path class="e" d="M682,1348.5 L500.2,1348.5"/>
<path class="e" d="M1419,1291.7 L1471.7,1239.6"/>
<path class="e" d="M1499.9,1251 L1431,1319.9"/>
<path class="e" d="M1430.3,1320.7 L1590.2,1320.7"/>
<path class="e" d="M1601.5,1348.5 L1420,1348.5"/>
<path class="er" d="M995,2486 Q1020,2508 1017,2522 L1006,2558"/>
<path class="er" d="M1160.6,2674 L1153,2632"/>
<path class="er" d="M1160.6,2674 Q1172,2632 1169,2615 L1161.5,2582"/>
<path class="er" d="M1160.6,2674 Q1182,2640 1180,2620 L1162.4,2532"/>
<path class="er" d="M1160.6,2674 Q1192,2640 1189,2620 L1160.6,2487"/>
<path class="er" d="M1350.4,2479 Q1362,2494 1357,2505"/>
<path class="er" d="M1350.4,2481 Q1372,2500 1368,2512 L1352,2554"/>
<text class="s12" x="952" y="249">超时，</text>
<text class="s12" x="952" y="262">新选举</text>
<text class="s12 m" x="800" y="398">超时，</text>
<text class="s12 m" x="800" y="412.5">开始选举</text>
<text class="s12" x="864" y="437.5">发现当前领导</text>
<text class="s12" x="864" y="452">者，或新任期</text>
<text class="s12 m" x="970" y="505.5">发现更高任期节点</text>
<text class="s12 m" x="585" y="521">节点启动</text>
<text class="s12 m" x="1150" y="388.5">从超过半数节</text>
<text class="s12 m" x="1150" y="402">点收到选票</text>
<text class="s12 m" x="495.2" y="1251.3">请求投票RPC</text>
<text class="s12 m" x="594.7" y="1271.7">响应投票请求</text>
<text class="s12 m" x="604.7" y="1311">请求投票RPC</text>
<text class="s12 m" x="604.7" y="1362">响应投票请求</text>
<text class="s12 m" x="1414.9" y="1251.3">发送心跳</text>
<text class="s12 m" x="1515" y="1271.7">响应信息</text>
<text class="s12 m" x="1525" y="1311">发送心跳</text>
<text class="s12 m" x="1525" y="1362">响应信息</text>
</g>
</svg>
